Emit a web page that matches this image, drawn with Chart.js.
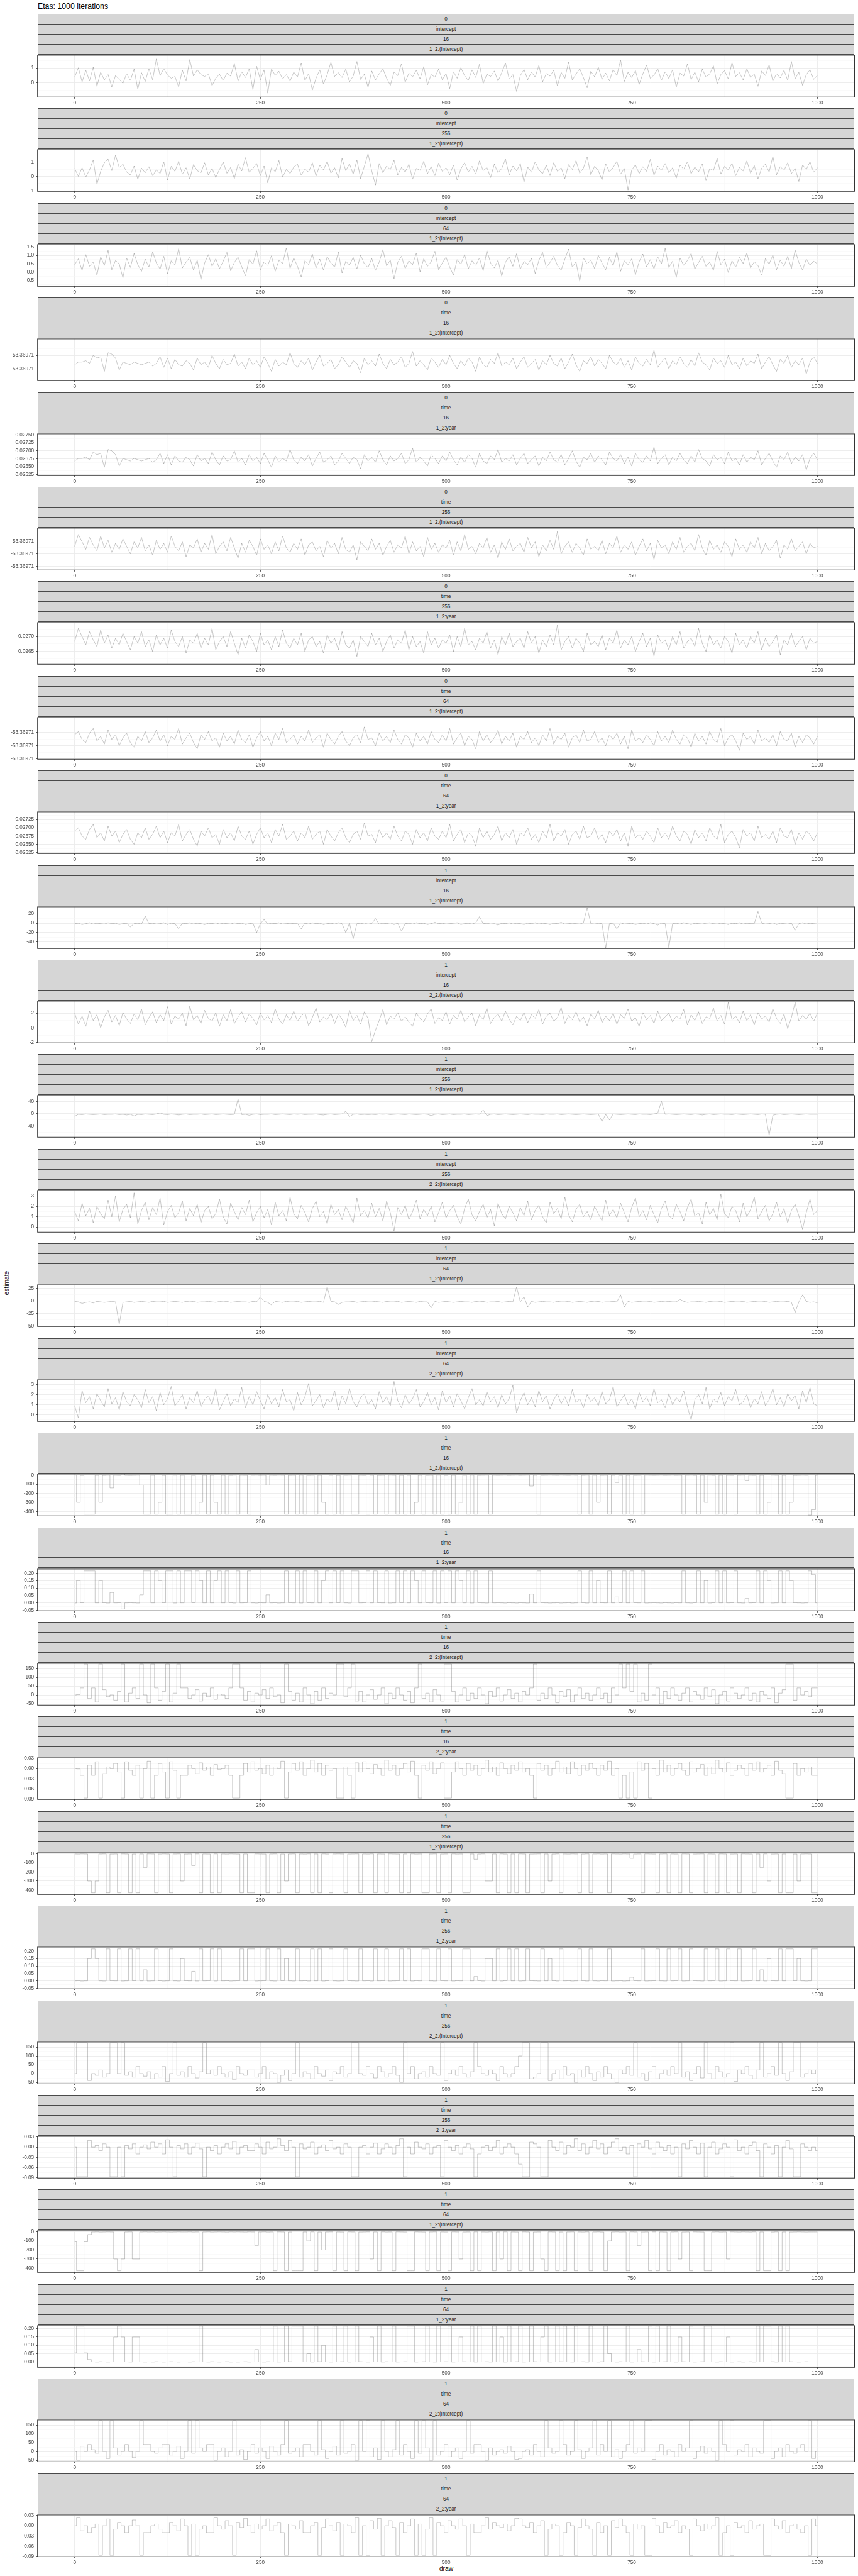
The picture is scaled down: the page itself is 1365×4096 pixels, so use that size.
<!DOCTYPE html>
<html><head><meta charset="utf-8">
<script src="https://cdn.jsdelivr.net/npm/chart.js@4.4.1/dist/chart.umd.min.js"></script>
<style>
html,body{margin:0;padding:0;background:#fff;}
body{width:1365px;height:4096px;position:relative;overflow:hidden;font-family:"Liberation Sans",Arial,Helvetica,sans-serif;}
.title{position:absolute;left:60px;top:3px;font-size:12.3px;line-height:14px;color:#000;white-space:nowrap;}
.strip{position:absolute;box-sizing:border-box;border:1px solid #4a4a4a;background:#D6D6D6;color:#1A1A1A;font-size:8.2px;display:flex;align-items:center;justify-content:center;white-space:nowrap;}
.cv{position:absolute;left:0;}
.axt{position:absolute;font-size:10.2px;color:#000;white-space:nowrap;transform:translate(-50%,-50%);}
</style></head><body>
<div class="title">Etas: 1000 iterations</div>
<div class="axt" style="left:9.5px;top:2040px;transform:translate(-50%,-50%) rotate(-90deg);">estimate</div>
<div class="axt" style="left:710px;top:4084px;">draw</div>
<script>
// ---------- DATA ----------
const iters = [
0,5,10,15,20,25,30,35,40,45,50,55,60,65,70,75,80,85,90,95,
100,105,110,115,120,125,130,135,140,145,150,155,160,165,170,175,180,185,190,195,
200,205,210,215,220,225,230,235,240,245,250,255,260,265,270,275,280,285,290,295,
300,305,310,315,320,325,330,335,340,345,350,355,360,365,370,375,380,385,390,395,
400,405,410,415,420,425,430,435,440,445,450,455,460,465,470,475,480,485,490,495,
500,505,510,515,520,525,530,535,540,545,550,555,560,565,570,575,580,585,590,595,
600,605,610,615,620,625,630,635,640,645,650,655,660,665,670,675,680,685,690,695,
700,705,710,715,720,725,730,735,740,745,750,755,760,765,770,775,780,785,790,795,
800,805,810,815,820,825,830,835,840,845,850,855,860,865,870,875,880,885,890,895,
900,905,910,915,920,925,930,935,940,945,950,955,960,965,970,975,980,985,990,995,
1000];

const stripLevel1 = ['0','0','0','0','0','0','0','0','0','1','1','1','1','1','1','1','1','1','1','1','1','1','1','1','1','1','1'];
const stripLevel2 = ['intercept','intercept','intercept','time','time','time','time','time','time','intercept','intercept','intercept','intercept','intercept','intercept','time','time','time','time','time','time','time','time','time','time','time','time'];
const stripLevel3 = ['16','256','64','16','16','256','256','64','64','16','16','256','256','64','64','16','16','16','16','256','256','256','256','64','64','64','64'];
const stripLevel4 = ['1_2:(Intercept)','1_2:(Intercept)','1_2:(Intercept)','1_2:(Intercept)','1_2:year','1_2:(Intercept)','1_2:year','1_2:(Intercept)','1_2:year','1_2:(Intercept)','2_2:(Intercept)','1_2:(Intercept)','2_2:(Intercept)','1_2:(Intercept)','2_2:(Intercept)','1_2:(Intercept)','1_2:year','2_2:(Intercept)','2_2:year','1_2:(Intercept)','1_2:year','2_2:(Intercept)','2_2:year','1_2:(Intercept)','1_2:year','2_2:(Intercept)','2_2:year'];

const xTickValues = [0,250,500,750,1000];
const xTickLabels = ['0','250','500','750','1000'];

const yMin = [-0.98,-1.04,-0.85,-53.36971095,0.02622,-53.36971115,0.026073,-53.36971102,0.02622,-54,-2.05,-76,-0.49,-51,-0.64,-448,-0.052,-58,-0.091,-448,-0.052,-58,-0.091,-448,-0.032,-58,-0.091];
const yMax = [1.87,1.86,1.65,-53.36970938,0.02753,-53.36970947,0.027463,-53.36970942,0.02748,35,3.65,59,3.53,32,3.46,12,0.227,179,0.032,12,0.227,179,0.032,12,0.218,179,0.032];

const yTickValues = [
[0,1],[-1,0,1],[-0.5,0,0.5,1,1.5],
[-53.3697105,-53.36971],[0.02625,0.0265,0.02675,0.027,0.02725,0.0275],
[-53.369711,-53.3697105,-53.36971],[0.0265,0.027],
[-53.369711,-53.3697105,-53.36971],[0.02625,0.0265,0.02675,0.027,0.02725],
[-40,-20,0,20],[-2,0,2],[-40,0,40],[0,1,2,3],[-50,-25,0,25],[0,1,2,3],
[-400,-300,-200,-100,0],[-0.05,0,0.05,0.1,0.15,0.2],[-50,0,50,100,150],[-0.09,-0.06,-0.03,0,0.03],
[-400,-300,-200,-100,0],[-0.05,0,0.05,0.1,0.15,0.2],[-50,0,50,100,150],[-0.09,-0.06,-0.03,0,0.03],
[-400,-300,-200,-100,0],[0,0.05,0.1,0.15,0.2],[-50,0,50,100,150],[-0.09,-0.06,-0.03,0,0.03]];
const yTickLabels = [
['0','1'],['-1','0','1'],['-0.5','0.0','0.5','1.0','1.5'],
['-53.36971','-53.36971'],['0.02625','0.02650','0.02675','0.02700','0.02725','0.02750'],
['-53.36971','-53.36971','-53.36971'],['0.0265','0.0270'],
['-53.36971','-53.36971','-53.36971'],['0.02625','0.02650','0.02675','0.02700','0.02725'],
['-40','-20','0','20'],['-2','0','2'],['-40','0','40'],['0','1','2','3'],['-50','-25','0','25'],['0','1','2','3'],
['-400','-300','-200','-100','0'],['-0.05','0.00','0.05','0.10','0.15','0.20'],['-50','0','50','100','150'],['-0.09','-0.06','-0.03','0.00','0.03'],
['-400','-300','-200','-100','0'],['-0.05','0.00','0.05','0.10','0.15','0.20'],['-50','0','50','100','150'],['-0.09','-0.06','-0.03','0.00','0.03'],
['-400','-300','-200','-100','0'],['0.00','0.05','0.10','0.15','0.20'],['-50','0','50','100','150'],['-0.09','-0.06','-0.03','0.00','0.03']];

const p01 = [
0.38,1.02,0.05,0.85,0.12,1.05,-0.25,0.72,0.18,0.55,-0.28,0.48,0.22,-0.05,0.62,0.15,0.92,-0.45,0.68,0.08,
0.95,0.20,1.62,0.48,0.95,0.52,0.30,0.42,-0.28,0.85,0.12,1.58,0.45,0.88,0.55,0.42,0.60,-0.20,0.30,0.58,
0.15,0.65,0.45,1.32,0.10,0.75,0.35,0.95,-0.48,1.12,0.20,0.88,-0.72,0.95,0.50,0.78,0.25,0.55,0.10,0.72,
0.38,1.35,0.15,0.62,-0.50,0.30,0.88,-0.10,0.55,1.40,0.42,0.68,0.35,0.92,0.05,0.45,1.45,0.22,0.58,-0.32,
0.80,0.18,0.60,0.95,0.30,-0.18,0.72,0.48,1.30,0.02,0.65,0.40,0.85,0.25,1.10,-0.15,0.55,0.38,0.92,0.20,
0.62,-0.40,0.75,0.30,1.02,0.48,0.15,0.88,0.35,1.25,-0.05,0.58,0.42,0.80,0.10,0.68,1.35,0.25,0.55,-0.60,
0.48,0.90,0.20,0.72,0.38,1.18,0.05,0.62,0.45,0.85,-0.22,0.70,0.30,1.42,0.18,0.58,0.95,0.35,-0.35,0.78,
0.40,1.05,0.22,0.65,0.12,0.90,0.48,1.55,0.08,0.70,0.35,0.82,-0.12,0.60,1.20,0.30,0.52,0.95,0.15,0.75,
0.28,0.88,-0.30,0.65,0.45,1.28,0.20,0.72,0.05,0.92,0.38,0.60,1.15,-0.08,0.55,0.82,0.25,1.38,0.42,0.68,
0.18,0.95,0.35,0.58,-0.25,0.80,0.48,1.22,0.10,0.62,0.32,0.85,0.15,1.45,0.28,0.70,-0.18,0.55,0.88,0.22,
0.50];
const p02 = [
0.55,0.00,0.60,-0.05,0.45,1.15,-0.55,0.35,0.95,1.20,0.40,1.48,0.62,0.85,0.30,0.10,0.72,-0.20,0.58,0.25,
0.68,0.05,0.45,0.20,1.02,-0.25,0.70,0.35,1.05,0.15,0.60,-0.18,0.82,0.40,0.25,0.95,0.10,0.55,-0.08,0.48,
1.00,0.22,0.62,-0.15,0.85,0.38,1.30,0.28,0.55,0.90,0.05,0.72,-0.45,0.60,0.32,1.10,-0.05,0.48,0.20,0.65,
0.85,0.08,0.50,0.30,0.95,0.02,0.78,0.45,1.05,0.22,0.60,-0.10,1.25,0.40,0.88,0.15,1.15,-0.15,0.70,1.58,
0.38,-0.60,0.90,0.25,0.72,0.48,1.12,0.10,0.62,0.30,0.85,-0.20,0.55,0.42,1.05,0.18,0.68,0.05,0.92,0.35,
0.60,0.12,0.80,-0.28,0.52,0.95,0.30,0.70,0.15,1.08,0.40,0.62,-0.08,0.85,0.25,0.55,1.20,0.10,0.72,0.38,
0.90,-0.42,0.65,0.28,1.02,0.45,0.18,0.78,0.05,0.95,0.35,0.60,-0.15,0.82,0.48,1.10,0.22,0.58,1.35,0.12,
0.70,0.40,-0.25,0.88,0.30,0.62,1.05,0.15,0.55,-0.95,0.45,0.80,0.20,0.68,0.35,1.18,0.08,0.72,0.42,0.90,
0.25,0.60,-0.12,0.78,0.50,1.02,0.18,0.65,0.32,0.88,-0.30,0.55,0.40,1.25,0.15,0.70,0.45,0.92,0.05,0.62,
0.38,1.08,0.22,0.75,-0.18,0.58,0.85,0.30,1.40,0.12,0.68,0.42,0.95,0.20,0.55,-0.35,0.80,0.48,1.02,0.28,
0.60];
const p03 = [
0.45,0.80,0.10,1.05,0.35,0.62,-0.20,0.92,0.40,1.30,0.15,0.70,0.50,-0.35,0.85,0.28,1.12,0.45,0.05,0.78,
0.30,1.22,0.55,0.18,0.95,-0.10,0.68,0.42,1.40,0.25,0.60,0.88,0.12,0.72,-0.45,0.55,1.05,0.35,0.80,0.20,
0.65,1.18,0.08,0.58,0.90,0.32,-0.22,0.75,0.48,1.28,0.15,0.62,0.40,0.98,0.05,0.70,0.52,1.45,0.22,0.85,
0.35,-0.30,0.68,0.45,1.08,0.25,0.78,0.12,0.92,0.55,0.30,1.20,-0.05,0.65,0.42,0.88,0.18,1.02,0.50,0.28,
0.82,0.10,0.60,1.35,0.38,0.72,-0.40,0.58,0.95,0.22,0.68,0.45,1.15,0.02,0.80,0.35,0.62,1.25,0.15,0.55,
0.90,0.30,-0.18,0.75,0.48,1.05,0.20,0.68,0.40,0.85,0.08,1.30,0.55,0.25,0.72,-0.25,0.60,0.92,0.35,1.10,
0.18,0.65,0.45,0.82,-0.08,0.70,1.18,0.28,0.58,0.95,0.40,0.12,0.78,1.38,0.30,0.62,-0.55,0.85,0.48,0.72,
0.22,1.00,0.55,0.15,0.88,0.38,1.22,0.05,0.68,0.45,0.80,-0.15,0.62,1.08,0.32,0.75,0.20,0.92,0.50,1.42,
0.28,0.65,-0.32,0.85,0.40,0.70,1.12,0.18,0.58,0.95,0.35,0.60,0.10,1.25,0.45,0.78,-0.02,0.68,0.30,0.88,
0.52,1.15,0.25,0.62,0.40,-0.20,0.82,0.48,1.02,0.15,0.72,0.35,0.95,0.22,1.32,0.58,0.12,0.78,0.42,0.65,
0.50];
const p04 = [
-53.36971035,-53.36971025,-53.36971025,-53.3697102,-53.3697103,-53.36971,-53.3697101,-53.36971005,-53.3697106,-53.3697099,-53.36970995,-53.3697101,-53.36971055,-53.36971025,-53.3697103,-53.36971035,-53.36971025,-53.3697103,-53.36971035,-53.3697103,
-53.36971025,-53.3697104,-53.3697103,-53.36971005,-53.36971045,-53.3697101,-53.3697105,-53.36971015,-53.36971035,-53.3697104,-53.3697102,-53.3697103,-53.36971055,-53.3697101,-53.36971035,-53.36971025,-53.36971045,-53.36971,-53.3697103,-53.3697105,
-53.36971015,-53.36971035,-53.3697103,-53.36970995,-53.3697104,-53.36971025,-53.3697105,-53.3697101,-53.36971035,-53.3697102,-53.36971045,-53.36971005,-53.3697103,-53.3697106,-53.36971015,-53.3697104,-53.36971025,-53.36971035,-53.3697099,-53.3697103,
-53.36971045,-53.3697102,-53.36971035,-53.3697101,-53.36971055,-53.36971025,-53.36971,-53.3697104,-53.3697103,-53.36971015,-53.3697105,-53.36971035,-53.36971005,-53.36971025,-53.36971045,-53.3697102,-53.3697103,-53.36971065,-53.3697101,-53.36971035,
-53.3697102,-53.3697104,-53.36970995,-53.3697103,-53.3697105,-53.36971015,-53.36971035,-53.36971025,-53.36971005,-53.36971045,-53.3697103,-53.36970985,-53.3697104,-53.3697102,-53.36971035,-53.36971055,-53.3697101,-53.36971025,-53.36971045,-53.36971015,
-53.36971035,-53.36971,-53.3697103,-53.3697105,-53.3697102,-53.3697104,-53.3697101,-53.36971025,-53.3697106,-53.36971005,-53.36971035,-53.36971045,-53.36971015,-53.3697103,-53.3697099,-53.3697104,-53.36971025,-53.36971035,-53.3697101,-53.3697105,
-53.36971025,-53.36971005,-53.36971045,-53.3697103,-53.36971015,-53.36971055,-53.3697102,-53.36971035,-53.36971,-53.3697103,-53.3697104,-53.3697101,-53.3697105,-53.36971025,-53.36970995,-53.36971035,-53.3697106,-53.3697102,-53.3697103,-53.36971005,
-53.3697104,-53.36971015,-53.3697103,-53.3697105,-53.36971,-53.36971025,-53.36971035,-53.3697101,-53.36971045,-53.3697102,-53.36971055,-53.36971005,-53.3697103,-53.3697104,-53.36971015,-53.36971035,-53.3697098,-53.36971045,-53.36971025,-53.3697101,
-53.3697105,-53.3697102,-53.36971035,-53.36971005,-53.3697103,-53.36971045,-53.36971015,-53.3697104,-53.3697099,-53.36971025,-53.36971035,-53.36971055,-53.3697101,-53.3697103,-53.3697102,-53.36971045,-53.36971,-53.36971035,-53.36971025,-53.3697105,
-53.3697101,-53.3697104,-53.3697102,-53.3697103,-53.36970995,-53.3697105,-53.36971025,-53.36971005,-53.36971035,-53.3697106,-53.36971015,-53.3697103,-53.36971,-53.36971045,-53.3697102,-53.36971035,-53.3697101,-53.3697107,-53.36971025,-53.36971005,
-53.3697103];
const p05 = [
0.02668,0.02676,0.02676,0.0268,0.02672,0.02696,0.02688,0.02692,0.02648,0.02704,0.027,0.02688,0.02652,0.02676,0.02672,0.02668,0.02676,0.02672,0.02668,0.02672,
0.02676,0.02664,0.02672,0.02692,0.0266,0.02688,0.02656,0.02684,0.02668,0.02664,0.0268,0.02672,0.02652,0.02688,0.02668,0.02676,0.0266,0.02696,0.02672,0.02656,
0.02684,0.02668,0.02672,0.027,0.02664,0.02676,0.02656,0.02688,0.02668,0.0268,0.0266,0.02692,0.02672,0.02648,0.02684,0.02664,0.02676,0.02668,0.02704,0.02672,
0.0266,0.0268,0.02668,0.02688,0.02652,0.02676,0.02696,0.02664,0.02672,0.02684,0.02656,0.02668,0.02692,0.02676,0.0266,0.0268,0.02672,0.02644,0.02688,0.02668,
0.0268,0.02664,0.027,0.02672,0.02656,0.02684,0.02668,0.02676,0.02692,0.0266,0.02672,0.02708,0.02664,0.0268,0.02668,0.02652,0.02688,0.02676,0.0266,0.02684,
0.02668,0.02696,0.02672,0.02656,0.0268,0.02664,0.02688,0.02676,0.02648,0.02692,0.02668,0.0266,0.02684,0.02672,0.02704,0.02664,0.02676,0.02668,0.02688,0.02656,
0.02676,0.02692,0.0266,0.02672,0.02684,0.02652,0.0268,0.02668,0.02696,0.02672,0.02664,0.02688,0.02656,0.02676,0.027,0.02668,0.02648,0.0268,0.02672,0.02692,
0.02664,0.02684,0.02672,0.02656,0.02696,0.02676,0.02668,0.02688,0.0266,0.0268,0.02652,0.02692,0.02672,0.02664,0.02684,0.02668,0.02712,0.0266,0.02676,0.02688,
0.02656,0.0268,0.02668,0.02692,0.02672,0.0266,0.02684,0.02664,0.02704,0.02676,0.02668,0.02652,0.02688,0.02672,0.0268,0.0266,0.02696,0.02668,0.02676,0.02656,
0.02688,0.02664,0.0268,0.02672,0.027,0.02656,0.02676,0.02692,0.02668,0.02648,0.02684,0.02672,0.02696,0.0266,0.0268,0.02668,0.02688,0.0264,0.02676,0.02692,
0.02672];
const p06 = [
-53.3697102,-53.36970972,-53.36971002,-53.36971032,-53.36970984,-53.36971014,-53.36971038,-53.36970978,-53.36971026,-53.36970996,-53.36971044,-53.36971008,-53.36971032,-53.3697099,-53.3697102,-53.3697105,-53.36971002,-53.36971026,-53.36970984,-53.36971038,
-53.36971014,-53.36971056,-53.36970996,-53.36971032,-53.36971008,-53.36971044,-53.36970978,-53.3697102,-53.36971038,-53.36971002,-53.36971062,-53.36971014,-53.36971026,-53.3697099,-53.36971044,-53.36971008,-53.36971032,-53.36970972,-53.3697105,-53.3697102,
-53.36971002,-53.36971038,-53.36970984,-53.36971026,-53.36971068,-53.36971008,-53.36971044,-53.36970996,-53.3697102,-53.36971056,-53.3697099,-53.36971032,-53.36971014,-53.3697105,-53.36971002,-53.36971038,-53.36970978,-53.36971026,-53.36971044,-53.36971008,
-53.36971032,-53.3697099,-53.36971056,-53.36971014,-53.36971002,-53.36971038,-53.3697102,-53.36971062,-53.36970996,-53.36971026,-53.36971008,-53.3697105,-53.36970984,-53.36971032,-53.36971044,-53.36971014,-53.36971074,-53.36971002,-53.3697102,-53.36971038,
-53.3697099,-53.36971032,-53.36971008,-53.36971056,-53.3697102,-53.36970996,-53.36971044,-53.36971014,-53.36971026,-53.36970978,-53.3697105,-53.36971002,-53.36971038,-53.3697102,-53.36971062,-53.36970984,-53.36971032,-53.36971008,-53.36971044,-53.36971014,
-53.36971026,-53.36970996,-53.36971056,-53.36971002,-53.36971038,-53.36970972,-53.36971032,-53.3697102,-53.3697105,-53.36971008,-53.36971026,-53.36970984,-53.36971044,-53.36971014,-53.36971068,-53.36971002,-53.36971032,-53.3697099,-53.36971038,-53.3697102,
-53.36971008,-53.36971044,-53.36970984,-53.36971026,-53.36971002,-53.36971062,-53.36971014,-53.36971038,-53.36970996,-53.36971032,-53.3697096,-53.3697105,-53.3697102,-53.36971002,-53.36971044,-53.36971008,-53.36971026,-53.36971056,-53.3697099,-53.36971032,
-53.3697102,-53.36971038,-53.36970996,-53.3697105,-53.36971008,-53.36971026,-53.36970978,-53.36971044,-53.36971014,-53.36971032,-53.36971002,-53.36971056,-53.3697102,-53.3697099,-53.36971038,-53.36971008,-53.36971074,-53.36970996,-53.36971026,-53.36971014,
-53.3697105,-53.36971002,-53.36971032,-53.36970984,-53.36971044,-53.3697102,-53.36971008,-53.36971038,-53.36970972,-53.36971026,-53.36971056,-53.36970996,-53.36971032,-53.36971014,-53.36971044,-53.36971002,-53.3697102,-53.36971062,-53.3697099,-53.36971032,
-53.36971014,-53.36971044,-53.36971002,-53.36971026,-53.36970984,-53.3697105,-53.36971008,-53.36971038,-53.3697102,-53.36970996,-53.36971068,-53.36971014,-53.36971032,-53.3697099,-53.36971038,-53.3697102,-53.36971002,-53.3697105,-53.36971008,-53.36971026,
-53.3697102];
const p07 = [
0.02683,0.02727,0.026995,0.02672,0.02716,0.026885,0.026665,0.027215,0.026775,0.02705,0.02661,0.02694,0.02672,0.027105,0.02683,0.026555,0.026995,0.026775,0.02716,0.026665,
0.026885,0.0265,0.02705,0.02672,0.02694,0.02661,0.027215,0.02683,0.026665,0.026995,0.026445,0.026885,0.026775,0.027105,0.02661,0.02694,0.02672,0.02727,0.026555,0.02683,
0.026995,0.026665,0.02716,0.026775,0.02639,0.02694,0.02661,0.02705,0.02683,0.0265,0.027105,0.02672,0.026885,0.026555,0.026995,0.026665,0.027215,0.026775,0.02661,0.02694,
0.02672,0.027105,0.0265,0.026885,0.026995,0.026665,0.02683,0.026445,0.02705,0.026775,0.02694,0.026555,0.02716,0.02672,0.02661,0.026885,0.026335,0.026995,0.02683,0.026665,
0.027105,0.02672,0.02694,0.0265,0.02683,0.02705,0.02661,0.026885,0.026775,0.027215,0.026555,0.026995,0.026665,0.02683,0.026445,0.02716,0.02672,0.02694,0.02661,0.026885,
0.026775,0.02705,0.0265,0.026995,0.026665,0.02727,0.02672,0.02683,0.026555,0.02694,0.026775,0.02716,0.02661,0.026885,0.02639,0.026995,0.02672,0.027105,0.026665,0.02683,
0.02694,0.02661,0.02716,0.026775,0.026995,0.026445,0.026885,0.026665,0.02705,0.02672,0.02738,0.026555,0.02683,0.026995,0.02661,0.02694,0.026775,0.0265,0.027105,0.02672,
0.02683,0.026665,0.02705,0.026555,0.02694,0.026775,0.027215,0.02661,0.026885,0.02672,0.026995,0.0265,0.02683,0.027105,0.026665,0.02694,0.026335,0.02705,0.026775,0.026885,
0.026555,0.026995,0.02672,0.02716,0.02661,0.02683,0.02694,0.026665,0.02727,0.026775,0.0265,0.02705,0.02672,0.026885,0.02661,0.026995,0.02683,0.026445,0.027105,0.02672,
0.026885,0.02661,0.026995,0.026775,0.02716,0.026555,0.02694,0.026665,0.02683,0.02705,0.02639,0.026885,0.02672,0.027105,0.026665,0.02683,0.026995,0.026555,0.02694,0.026775,
0.02683];
const p08 = [
-53.36971008,-53.36970996,-53.36971026,-53.36971038,-53.36971002,-53.36970984,-53.36971032,-53.36971014,-53.36971044,-53.3697099,-53.36971026,-53.36971008,-53.3697105,-53.3697102,-53.36971002,-53.36971038,-53.36971056,-53.36971014,-53.36971032,-53.36970996,
-53.36971038,-53.3697102,-53.3697099,-53.36971032,-53.36971008,-53.3697105,-53.36971014,-53.36971026,-53.36970984,-53.36971044,-53.3697102,-53.36971002,-53.36971038,-53.36971062,-53.36971008,-53.36971026,-53.36970996,-53.36971032,-53.3697102,-53.36971056,
-53.36971002,-53.36971032,-53.36971014,-53.36971044,-53.3697099,-53.36971026,-53.36971038,-53.36971008,-53.36971056,-53.3697102,-53.36970996,-53.36971032,-53.36971014,-53.3697105,-53.36971002,-53.36971026,-53.36970984,-53.36971038,-53.36971026,-53.36971008,
-53.36971044,-53.36971014,-53.36971032,-53.3697099,-53.36971038,-53.3697102,-53.36971008,-53.36971056,-53.36971002,-53.36971026,-53.36971044,-53.36971014,-53.36970996,-53.36971032,-53.3697105,-53.3697102,-53.36971008,-53.36971038,-53.36970978,-53.36971026,
-53.3697102,-53.3697105,-53.36971002,-53.36971032,-53.36971014,-53.36971038,-53.3697099,-53.36971026,-53.36971044,-53.36971008,-53.3697102,-53.36971056,-53.36971002,-53.36971032,-53.36971014,-53.36971044,-53.36970996,-53.36971026,-53.36971038,-53.36971008,
-53.36971032,-53.36970984,-53.36971044,-53.3697102,-53.36971002,-53.3697105,-53.36971014,-53.36971026,-53.36971062,-53.36970996,-53.36971032,-53.36971008,-53.36971038,-53.3697102,-53.3697099,-53.36971044,-53.36971014,-53.36971032,-53.36971002,-53.36971056,
-53.36971014,-53.36971026,-53.36970996,-53.36971038,-53.3697102,-53.3697105,-53.36971008,-53.36971032,-53.36970984,-53.36971044,-53.36971014,-53.36971026,-53.36971002,-53.36971056,-53.3697102,-53.36971008,-53.36971038,-53.3697099,-53.36971032,-53.36971026,
-53.36970996,-53.36971038,-53.3697102,-53.3697105,-53.36971008,-53.36971026,-53.36971002,-53.36971044,-53.36971014,-53.36971062,-53.3697099,-53.36971032,-53.3697102,-53.36971038,-53.36971008,-53.36971026,-53.3697105,-53.36970996,-53.36971032,-53.36971014,
-53.36971038,-53.3697099,-53.36971026,-53.36971044,-53.36971008,-53.3697102,-53.36971056,-53.36971002,-53.36971032,-53.36971014,-53.36971044,-53.36970996,-53.36971026,-53.36971038,-53.36970984,-53.3697105,-53.3697102,-53.36971008,-53.36971032,-53.36971068,
-53.36971002,-53.36971026,-53.36971014,-53.36971044,-53.3697099,-53.36971032,-53.3697102,-53.36971038,-53.36971008,-53.3697105,-53.36970996,-53.36971026,-53.36971032,-53.36971002,-53.36971056,-53.36971014,-53.36971038,-53.36971008,-53.3697102,-53.36971044,
-53.36971014];
const p09 = [
0.0269,0.027,0.02675,0.02665,0.02695,0.0271,0.0267,0.02685,0.0266,0.02705,0.02675,0.0269,0.02655,0.0268,0.02695,0.02665,0.0265,0.02685,0.0267,0.027,
0.02665,0.0268,0.02705,0.0267,0.0269,0.02655,0.02685,0.02675,0.0271,0.0266,0.0268,0.02695,0.02665,0.02645,0.0269,0.02675,0.027,0.0267,0.0268,0.0265,
0.02695,0.0267,0.02685,0.0266,0.02705,0.02675,0.02665,0.0269,0.0265,0.0268,0.027,0.0267,0.02685,0.02655,0.02695,0.02675,0.0271,0.02665,0.02675,0.0269,
0.0266,0.02685,0.0267,0.02705,0.02665,0.0268,0.0269,0.0265,0.02695,0.02675,0.0266,0.02685,0.027,0.0267,0.02655,0.0268,0.0269,0.02665,0.02715,0.02675,
0.0268,0.02655,0.02695,0.0267,0.02685,0.02665,0.02705,0.02675,0.0266,0.0269,0.0268,0.0265,0.02695,0.0267,0.02685,0.0266,0.027,0.02675,0.02665,0.0269,
0.0267,0.0271,0.0266,0.0268,0.02695,0.02655,0.02685,0.02675,0.02645,0.027,0.0267,0.0269,0.02665,0.0268,0.02705,0.0266,0.02685,0.0267,0.02695,0.0265,
0.02685,0.02675,0.027,0.02665,0.0268,0.02655,0.0269,0.0267,0.0271,0.0266,0.02685,0.02675,0.02695,0.0265,0.0268,0.0269,0.02665,0.02705,0.0267,0.02675,
0.027,0.02665,0.0268,0.02655,0.0269,0.02675,0.02695,0.0266,0.02685,0.02645,0.02705,0.0267,0.0268,0.02665,0.0269,0.02675,0.02655,0.027,0.0267,0.02685,
0.02665,0.02705,0.02675,0.0266,0.0269,0.0268,0.0265,0.02695,0.0267,0.02685,0.0266,0.027,0.02675,0.02665,0.0271,0.02655,0.0268,0.0269,0.0267,0.0264,
0.02695,0.02675,0.02685,0.0266,0.02705,0.0267,0.0268,0.02665,0.0269,0.02655,0.027,0.02675,0.0267,0.02695,0.0265,0.02685,0.02665,0.0269,0.0268,0.0266,
0.02685];
const p10 = [
-1,0,-3,-1,1,-2,0,-1,-2,1,-1,0,-3,-1,0,-8,-1,0,-2,15,
-1,0,-2,-1,1,-3,0,-1,-12,0,-1,1,-2,0,-1,-3,0,-1,1,-2,
0,-1,-2,1,-1,0,-3,-1,0,-20,-1,8,-2,0,-1,1,-2,-1,0,-1,
-1,-12,0,-2,1,-1,0,-3,-1,0,-2,1,-1,-20,0,-33,-1,0,-2,1,
-1,10,-2,0,-1,1,-3,0,-17,-1,0,-2,1,-1,0,-3,-1,2,-1,0,
-2,-1,0,1,-3,-1,0,-2,1,14,-1,0,-2,-1,-4,0,-1,1,-2,0,
-1,-3,0,-1,1,-2,0,-1,-3,0,-1,2,-2,-1,0,-1,-2,1,33,-1,
-2,0,-1,-53,-1,0,-12,1,-2,-1,0,-3,-1,0,-2,1,-1,-4,0,-1,
-52,-1,0,-2,1,-1,-3,0,-1,-2,0,1,-1,-2,0,-1,-3,0,-1,1,
-2,0,-1,-1,25,0,-2,-1,1,-3,0,-1,-2,0,-15,-1,1,-2,0,-1,
-2];
const p11 = [
2.0,0.5,1.6,0.2,2.3,1.0,1.8,0.0,1.5,2.4,0.8,1.7,0.3,2.1,1.2,0.6,1.9,1.1,2.6,0.4,
1.4,2.2,0.7,1.8,1.0,2.9,0.5,1.6,1.2,2.0,0.3,3.0,1.1,1.7,0.6,2.4,1.3,0.9,2.1,0.2,
1.8,1.0,2.5,0.6,1.5,2.2,0.8,1.9,1.3,0.4,2.0,1.1,1.7,0.7,2.6,1.2,0.5,1.8,1.0,2.3,
0.9,1.6,2.1,0.3,1.4,2.7,0.8,1.5,1.1,2.0,0.6,1.9,1.2,0.1,2.4,1.0,1.7,0.5,2.2,1.3,
-1.9,-0.3,1.0,2.5,0.4,1.6,1.2,2.1,0.9,1.5,0.8,0.2,2.0,1.3,0.8,1.9,2.6,0.6,1.4,1.0,
2.2,0.5,1.7,1.2,2.4,0.8,1.5,2.0,0.3,1.8,1.1,2.7,0.6,1.4,1.9,0.9,2.3,1.2,0.4,1.6,
1.0,2.1,0.7,1.8,1.3,2.5,0.5,1.6,2.0,0.9,1.4,2.8,0.6,1.7,1.1,2.2,0.8,1.5,0.3,1.9,
1.2,2.4,0.7,1.6,1.0,2.0,0.5,1.8,1.3,2.6,0.9,1.4,0.2,2.1,1.1,1.7,0.6,2.3,1.0,1.5,
2.0,0.8,1.6,1.2,2.5,0.4,1.8,1.0,2.2,0.6,1.5,1.3,2.7,0.9,1.7,0.5,3.5,1.1,1.6,0.7,
2.3,1.0,1.8,0.4,2.1,1.2,1.6,0.8,2.6,1.3,0.6,1.9,-0.1,1.4,3.5,0.9,1.7,1.2,2.0,0.9,
2.0];
const p12 = [
-8,-2,-3,-1,-2,-3,-2,-1,-3,-2,-2,-1,-3,-2,-4,-2,-7,-2,-3,-1,
-2,-3,-1,3,-2,-3,-1,-2,-4,-2,-1,-3,-2,-2,-1,-3,-2,-1,-3,-2,
-1,-2,-3,-2,48,-3,-2,-5,-2,-1,-3,-2,-2,-1,-3,-2,-1,-2,-3,-1,
-2,-1,-3,-2,-2,-1,-3,-4,-2,-1,-3,-2,-1,8,-9,-2,-1,-3,-2,-3,
-2,-3,-1,-2,-1,-3,-2,-1,-2,-3,-1,-2,-3,-2,-1,-2,-6,-2,-1,-3,
-2,-1,-3,-2,-2,-1,-3,-2,-1,-2,12,-6,-2,-1,-3,-2,-1,-2,-3,-2,
-1,-2,-3,-1,-2,-2,-3,-1,-2,-2,-1,-3,-2,-1,-2,-3,-2,-1,-2,-3,
-2,-1,-25,-2,-20,-1,-2,-3,-2,-1,-2,-3,-1,-2,-2,-3,-1,2,40,-2,
-1,-2,-3,-2,-1,-2,-3,-1,-2,-4,-2,-1,-3,-2,-1,-2,-2,-3,-1,-2,
-3,-2,-1,-2,-3,-1,-2,-70,-5,-2,-1,-3,-2,-1,-2,-3,-2,-1,-2,-2,
-2];
const p13 = [
1.5,0.6,2.3,1.1,1.8,0.4,2.0,1.3,0.8,2.6,1.0,3.0,0.5,1.7,2.2,0.9,3.3,0.3,1.6,2.4,
0.7,1.9,1.2,2.8,0.2,1.5,2.1,0.9,1.4,2.5,0.6,1.8,1.1,2.2,0.4,1.6,2.0,0.8,1.3,2.7,
1.0,0.3,2.3,1.5,0.7,1.9,1.2,2.6,0.5,1.4,2.0,0.9,1.7,0.2,2.4,1.1,1.6,0.6,2.9,1.3,
0.8,2.1,1.4,0.5,1.8,2.5,1.0,1.5,0.3,2.2,1.2,1.7,0.7,2.0,1.3,0.4,2.8,1.1,1.6,0.9,
2.3,1.0,1.8,0.6,2.5,1.4,-0.4,1.9,1.2,2.1,0.7,1.5,2.6,0.8,1.7,1.1,2.0,0.5,1.4,2.4,
0.9,1.6,2.1,1.0,0.3,1.8,2.7,1.2,0.6,1.5,2.2,0.9,1.7,0.1,2.3,1.3,0.8,2.0,1.4,0.6,
1.9,1.1,2.5,0.7,1.6,2.1,1.0,0.4,2.4,1.3,1.8,0.8,2.9,1.2,0.5,1.7,2.2,1.0,1.5,0.7,
2.0,1.3,0.6,2.6,1.1,1.7,0.9,2.3,1.4,0.5,1.9,2.8,1.0,1.6,0.7,2.1,1.2,0.4,1.8,2.5,
1.1,0.8,2.2,1.5,0.6,1.9,2.7,1.0,1.4,0.3,2.4,1.2,1.8,0.7,3.2,1.3,0.9,2.0,1.6,0.5,
2.3,1.0,1.7,2.9,0.8,1.5,2.1,0.6,1.3,2.4,1.0,1.8,0.4,1.6,2.2,1.1,-0.2,1.4,2.7,1.2,
1.6];
const p14 = [
-1,-2,-5,-3,-2,-4,-1,-2,-3,-2,-1,-2,-47,-3,-2,-1,-3,-2,-1,-2,
-3,-1,-2,-2,-1,-3,-2,-1,-2,-3,-1,-2,-1,-3,-2,-2,-1,-2,-3,-1,
-2,-1,-3,-2,-1,-2,-2,-3,-1,-2,8,-1,-3,-8,-1,-2,-3,-1,-2,-2,
-1,-3,-2,-1,-2,-2,-1,-3,28,-1,-2,-7,-3,-2,-2,-1,-3,-2,-1,-2,
-2,-1,-2,-3,-1,-2,-2,-1,-3,-2,-1,-2,-3,-1,-2,-2,-14,-1,-3,-2,
-1,-2,-3,-2,-1,-2,-2,-3,-1,-2,-1,-3,-2,-2,-1,-3,-2,-1,-2,28,
-2,8,-12,-1,-3,-2,-1,-2,-2,-3,-1,-2,-2,-1,-3,-2,-1,-2,-3,-1,
-2,-1,-3,-2,-2,-1,-2,12,-12,-1,-3,-2,-1,-2,-2,-1,-3,-2,-1,-2,
-1,-2,-2,3,-1,-3,-2,-2,-1,-2,-3,-1,-2,-2,-1,-3,-2,-1,-2,-2,
-1,-3,-2,-1,-2,-2,-1,-3,-2,-1,-2,-2,-1,-3,-23,-2,12,-1,-3,-2,
-4];
const p15 = [
0.9,-0.3,2.4,1.2,1.8,0.6,2.1,1.4,0.8,2.6,1.1,1.7,0.5,2.3,1.3,0.9,2.0,1.5,0.7,2.5,
1.2,1.8,0.4,2.2,1.0,1.6,2.8,0.9,1.4,2.0,0.6,1.7,1.2,2.4,0.8,1.5,1.9,1.0,2.6,0.5,
1.3,2.1,0.9,1.6,1.2,2.7,0.7,1.8,1.0,2.3,1.4,0.6,2.0,1.1,1.7,0.8,2.5,1.3,1.5,0.4,
2.2,1.0,1.8,3.1,0.9,1.4,2.0,0.7,1.6,1.2,2.4,0.5,1.9,1.1,2.6,1.3,0.8,1.7,2.1,1.0,
1.5,0.6,2.3,1.2,1.8,0.9,3.3,1.4,0.7,2.0,1.1,1.6,2.5,0.8,1.3,2.2,1.0,1.7,0.5,2.4,
1.2,1.9,0.8,2.1,1.4,0.6,1.7,2.6,1.0,1.5,0.9,2.3,1.3,1.8,0.7,2.0,1.1,1.6,2.9,0.2,
1.4,2.2,1.0,1.7,0.8,2.4,1.3,1.9,0.6,1.5,2.1,1.1,1.8,0.9,2.5,1.2,1.6,0.7,2.0,1.3,
1.7,0.9,2.3,1.1,1.5,2.8,0.8,1.4,2.0,1.0,1.6,0.6,2.2,1.3,1.8,0.9,2.6,1.2,1.5,0.7,
2.1,1.0,1.7,1.3,2.4,0.8,-0.5,1.5,2.0,1.1,2.7,0.6,1.6,1.2,2.2,0.9,1.8,1.4,2.5,1.0,
1.3,2.0,0.7,1.6,1.1,2.3,0.9,1.5,2.6,1.0,1.7,0.8,2.1,1.4,1.9,0.6,2.4,1.2,2.7,1.1,
0.9];
const p16 = [
0,-300,-3,-430,-430,-430,-2,-300,-3,-1,-140,-2,-3,20,-2,-3,-2,-1,-110,-430,
-430,-2,-430,-300,-3,-430,-430,-1,-430,-2,-430,-430,-3,-430,-300,-2,-430,-2,-300,-430,
-2,-430,-3,-1,-430,-2,-3,-430,-2,-1,-3,-2,-110,-2,-3,-1,-2,-430,-3,-2,
-430,-1,-430,-3,-2,-430,-2,-300,-430,-2,-430,-3,-430,-2,-1,-430,-430,-2,-3,-430,
-2,-430,-3,-2,-430,-1,-2,-430,-3,-430,-2,-430,-300,-2,-430,-3,-2,-430,-1,-430,
-3,-430,-2,-430,-300,-2,-430,-1,-430,-3,-2,-1,-430,-2,-3,-2,-1,-3,-2,-1,
-3,-2,-1,-120,-2,-430,-3,-2,-1,-2,-3,-1,-2,-3,-1,-2,-430,-3,-1,-430,
-2,-300,-3,-2,-430,-2,-80,-3,-430,-2,-430,-3,-2,-430,-1,-2,-3,-2,-1,-3,
-2,-1,-3,-2,-430,-2,-1,-3,-430,-2,-300,-1,-3,-430,-2,-430,-2,-3,-430,-2,
-1,-60,-2,-3,-430,-2,-430,-300,-1,-2,-430,-2,-430,-300,-3,-2,-1,-2,-440,-380,
-2];
const p17 = [
0,0.15,0.002,0.215,0.215,0.215,0.001,0.15,0.002,0,0.07,0.001,0.002,-0.04,0.001,0.002,0.001,0,0.055,0.215,
0.215,0.001,0.215,0.15,0.002,0.215,0.215,0,0.215,0.001,0.215,0.215,0.002,0.215,0.15,0.001,0.215,0.001,0.15,0.215,
0.001,0.215,0.002,0,0.215,0.001,0.002,0.215,0.001,0,0.002,0.001,0.055,0.001,0.002,0,0.001,0.215,0.002,0.001,
0.215,0,0.215,0.002,0.001,0.215,0.001,0.15,0.215,0.001,0.215,0.002,0.215,0.001,0,0.215,0.215,0.001,0.002,0.215,
0.001,0.215,0.002,0.001,0.215,0,0.001,0.215,0.002,0.215,0.001,0.215,0.15,0.001,0.215,0.002,0.001,0.215,0,0.215,
0.002,0.215,0.001,0.215,0.15,0.001,0.215,0,0.215,0.002,0.001,0,0.215,0.001,0.002,0.001,0,0.002,0.001,0,
0.002,0.001,0,0.06,0.001,0.215,0.002,0.001,0,0.001,0.002,0,0.001,0.002,0,0.001,0.215,0.002,0,0.215,
0.001,0.15,0.002,0.001,0.215,0.001,0.04,0.002,0.215,0.001,0.215,0.002,0.001,0.215,0,0.001,0.002,0.001,0,0.002,
0.001,0,0.002,0.001,0.215,0.001,0,0.002,0.215,0.001,0.15,0,0.002,0.215,0.001,0.215,0.001,0.002,0.215,0.001,
0,0.03,0.001,0.002,0.215,0.001,0.215,0.15,0,0.001,0.215,0.001,0.215,0.15,0.002,0.001,0,0.001,0.215,0.19,
0.001];
const p18 = [
0,2,40,175,-20,40,-40,175,30,-10,0,-30,20,175,-40,10,40,-20,175,0,
-45,175,40,-30,20,175,-40,10,175,40,40,-20,0,30,-35,10,-10,40,-25,5,
0,-20,40,175,175,40,-30,20,-40,10,0,30,-20,40,-10,0,-45,175,20,-30,
10,-40,40,0,-50,20,-30,40,-20,10,0,175,175,-10,40,175,-35,20,-40,0,
30,-25,0,40,-50,10,-20,40,0,-30,20,-45,40,175,-20,10,-40,30,0,-35,
175,175,20,-40,0,40,-30,10,-20,40,0,-50,20,-10,40,-35,0,30,-20,10,
-40,20,0,40,175,-30,10,-20,40,0,-45,20,-10,30,-40,0,40,-20,10,-30,
0,40,-20,10,-45,40,0,175,40,175,20,175,-40,10,-30,175,0,40,-50,20,
-20,40,0,-30,10,40,-40,20,0,-25,40,-10,30,-50,0,20,-35,40,10,-20,
0,40,-30,10,-40,20,0,-20,40,-45,10,30,175,175,-30,40,0,20,-10,40,
40];
const p19 = [
0,-0.001,-0.02,-0.087,0.01,-0.02,0.02,-0.087,-0.015,0.005,0,0.015,-0.01,-0.087,0.02,-0.005,-0.02,0.01,-0.087,0,
0.022,-0.087,-0.02,0.015,-0.01,-0.087,0.02,-0.005,-0.087,-0.02,-0.02,0.01,0,-0.015,0.017,-0.005,0.005,-0.02,0.012,-0.002,
0,0.01,-0.02,-0.087,-0.087,-0.02,0.015,-0.01,0.02,-0.005,0,-0.015,0.01,-0.02,0.005,0,0.022,-0.087,-0.01,0.015,
-0.005,0.02,-0.02,0,0.025,-0.01,0.015,-0.02,0.01,-0.005,0,-0.087,-0.087,0.005,-0.02,-0.087,0.017,-0.01,0.02,0,
-0.015,0.012,0,-0.02,0.025,-0.005,0.01,-0.02,0,0.015,-0.01,0.022,-0.02,-0.087,0.01,-0.005,0.02,-0.015,0,0.017,
-0.087,-0.087,-0.01,0.02,0,-0.02,0.015,-0.005,0.01,-0.02,0,0.025,-0.01,0.005,-0.02,0.017,0,-0.015,0.01,-0.005,
0.02,-0.01,0,-0.02,-0.087,0.015,-0.005,0.01,-0.02,0,0.022,-0.01,0.005,-0.015,0.02,0,-0.02,0.01,-0.005,0.015,
0,-0.02,0.01,-0.005,0.022,-0.02,0,-0.087,-0.02,-0.087,-0.01,-0.087,0.02,-0.005,0.015,-0.087,0,-0.02,0.025,-0.01,
0.01,-0.02,0,0.015,-0.005,-0.02,0.02,-0.01,0,0.012,-0.02,0.005,-0.015,0.025,0,-0.01,0.017,-0.02,-0.005,0.01,
0,-0.02,0.015,-0.005,0.02,-0.01,0,0.01,-0.02,0.022,-0.005,-0.015,-0.087,-0.087,0.015,-0.02,0,-0.01,0.005,-0.02,
-0.02];
const p20 = [
-2,-3,-1,-2,-300,-430,-300,-2,-1,-430,-3,-2,-430,-1,-2,-430,-3,-430,-2,-150,
-1,-2,-430,-3,-1,-2,-430,-2,-1,-300,-3,-2,-130,-1,-430,-2,-3,-430,-1,-430,
-2,-3,-1,-2,-3,-430,-2,-430,-430,-1,-2,-3,-430,-2,-1,-430,-3,-300,-2,-1,
-430,-2,-3,-1,-430,-2,-430,-1,-3,-430,-2,-1,-2,-430,-3,-2,-1,-430,-2,-3,
-1,-430,-2,-3,-430,-1,-2,-3,-430,-2,-430,-1,-3,-2,-430,-430,-2,-1,-430,-3,
-2,-430,-1,-3,-2,-430,-430,-2,-60,-3,-1,-300,-300,-2,-430,-1,-3,-430,-2,-430,
-1,-2,-430,-3,-2,-1,-430,-2,-300,-3,-1,-430,-2,-3,-1,-2,-430,-3,-1,-430,
-2,-1,-3,-2,-430,-1,-2,-3,-1,-2,-50,-3,-2,-430,-1,-2,-3,-430,-2,-1,
-430,-2,-3,-430,-1,-2,-430,-3,-2,-1,-430,-2,-3,-430,-1,-2,-430,-3,-2,-430,
-1,-2,-3,-430,-2,-150,-1,-300,-3,-2,-430,-2,-430,-430,-3,-300,-2,-1,-2,-430,
-430];
const p21 = [
0.001,0.002,0,0.001,0.15,0.215,0.15,0.001,0,0.215,0.002,0.001,0.215,0,0.001,0.215,0.002,0.215,0.001,0.075,
0,0.001,0.215,0.002,0,0.001,0.215,0.001,0,0.15,0.002,0.001,0.065,0,0.215,0.001,0.002,0.215,0,0.215,
0.001,0.002,0,0.001,0.002,0.215,0.001,0.215,0.215,0,0.001,0.002,0.215,0.001,0,0.215,0.002,0.15,0.001,0,
0.215,0.001,0.002,0,0.215,0.001,0.215,0,0.002,0.215,0.001,0,0.001,0.215,0.002,0.001,0,0.215,0.001,0.002,
0,0.215,0.001,0.002,0.215,0,0.001,0.002,0.215,0.001,0.215,0,0.002,0.001,0.215,0.215,0.001,0,0.215,0.002,
0.001,0.215,0,0.002,0.001,0.215,0.215,0.001,0.03,0.002,0,0.15,0.15,0.001,0.215,0,0.002,0.215,0.001,0.215,
0,0.001,0.215,0.002,0.001,0,0.215,0.001,0.15,0.002,0,0.215,0.001,0.002,0,0.001,0.215,0.002,0,0.215,
0.001,0,0.002,0.001,0.215,0,0.001,0.002,0,0.001,0.025,0.002,0.001,0.215,0,0.001,0.002,0.215,0.001,0,
0.215,0.001,0.002,0.215,0,0.001,0.215,0.002,0.001,0,0.215,0.001,0.002,0.215,0,0.001,0.215,0.002,0.001,0.215,
0,0.001,0.002,0.215,0.001,0.075,0,0.15,0.002,0.001,0.215,0.001,0.215,0.215,0.002,0.15,0.001,0,0.001,0.215,
0.215];
const p22 = [
0,175,175,175,-40,0,-10,20,-20,0,175,175,0,175,-10,10,-20,40,0,-15,
10,-30,0,-20,40,-45,0,175,-10,10,-20,40,0,-25,10,175,0,20,-10,40,
0,-20,10,-35,40,0,-10,20,20,-20,0,40,-30,10,0,-50,-10,20,-40,0,
175,-20,10,0,-30,40,0,-15,20,-40,10,0,40,-20,0,175,175,0,-10,40,
0,-25,40,10,-20,0,40,-10,-50,175,0,40,-30,0,10,-20,40,0,-10,175,
-40,0,20,-10,40,0,-20,10,175,40,0,-10,20,0,-40,40,0,-20,0,40,
100,175,175,-30,-20,0,175,175,-40,0,20,-30,40,-10,0,-50,20,-20,40,0,
-40,10,-20,40,0,-30,-50,20,0,40,-10,175,-20,0,-40,10,40,-30,0,20,
-10,40,0,175,-20,10,-40,0,40,-25,175,0,-30,40,10,-20,0,175,-45,20,
0,40,-10,-30,20,175,-20,0,40,-10,175,0,-40,10,175,175,-20,0,20,0,
20];
const p23 = [
0,-0.087,-0.087,-0.087,0.02,0,0.005,-0.01,0.01,0,-0.087,-0.087,0,-0.087,0.005,-0.005,0.01,-0.02,0,0.007,
-0.005,0.015,0,0.01,-0.02,0.022,0,-0.087,0.005,-0.005,0.01,-0.02,0,0.012,-0.005,-0.087,0,-0.01,0.005,-0.02,
0,0.01,-0.005,0.017,-0.02,0,0.005,-0.01,-0.01,0.01,0,-0.02,0.015,-0.005,0,0.025,0.005,-0.01,0.02,0,
-0.087,0.01,-0.005,0,0.015,-0.02,0,0.007,-0.01,0.02,-0.005,0,-0.02,0.01,0,-0.087,-0.087,0,0.005,-0.02,
0,0.012,-0.02,-0.005,0.01,0,-0.02,0.005,0.025,-0.087,0,-0.02,0.015,0,-0.005,0.01,-0.02,0,0.005,-0.087,
0.02,0,-0.01,0.005,-0.02,0,0.01,-0.005,-0.087,-0.02,0,0.005,-0.01,0,0.02,-0.02,0,0.01,0,-0.02,
-0.05,-0.087,-0.087,0.015,0.01,0,-0.087,-0.087,0.02,0,-0.01,0.015,-0.02,0.005,0,0.025,-0.01,0.01,-0.02,0,
0.02,-0.005,0.01,-0.02,0,0.015,0.025,-0.01,0,-0.02,0.005,-0.087,0.01,0,0.02,-0.005,-0.02,0.015,0,-0.01,
0.005,-0.02,0,-0.087,0.01,-0.005,0.02,0,-0.02,0.012,-0.087,0,0.015,-0.02,-0.005,0.01,0,-0.087,0.022,-0.01,
0,-0.02,0.005,0.015,-0.01,-0.087,0.01,0,-0.02,0.005,-0.087,0,0.02,-0.005,-0.087,-0.087,0.01,0,-0.01,0,
-0.01];
const p24 = [
-110,-430,-430,-110,-30,-2,-1,-3,-2,-1,-2,-300,-430,-300,-2,-1,-300,-300,-2,-1,
-2,-1,-3,-2,-1,-2,-3,-2,-1,-2,-2,-1,-3,-2,-430,-2,-1,-3,-2,-1,
-2,-3,-1,-2,-1,-2,-3,-1,-2,-150,-2,-1,-3,-2,-430,-1,-2,-430,-3,-430,
-430,-430,-2,-100,-1,-430,-3,-200,-2,-1,-430,-2,-3,-430,-1,-2,-430,-3,-2,-1,
-300,-2,-430,-1,-3,-2,-430,-1,-2,-3,-430,-430,-1,-2,-3,-430,-2,-1,-430,-2,
-3,-430,-1,-2,-300,-3,-2,-430,-1,-430,-2,-3,-1,-430,-2,-300,-1,-430,-2,-3,
-430,-1,-2,-430,-3,-2,-300,-430,-1,-2,-430,-3,-430,-2,-1,-430,-2,-3,-1,-430,
-2,-1,-3,-430,-100,-2,-1,-3,-2,-430,-1,-2,-150,-3,-2,-430,-1,-430,-2,-3,
-430,-2,-1,-300,-3,-2,-430,-1,-2,-3,-430,-430,-2,-1,-3,-2,-300,-1,-2,-3,
-1,-2,-3,-1,-430,-2,-430,-430,-3,-1,-430,-2,-430,-3,-2,-1,-2,-3,-2,-2,
-2];
const p25 = [
0.055,0.215,0.215,0.055,0.015,0.001,0,0.002,0.001,0,0.001,0.15,0.215,0.15,0.001,0,0.15,0.15,0.001,0,
0.001,0,0.002,0.001,0,0.001,0.002,0.001,0,0.001,0.001,0,0.002,0.001,0.215,0.001,0,0.002,0.001,0,
0.001,0.002,0,0.001,0,0.001,0.002,0,0.001,0.075,0.001,0,0.002,0.001,0.215,0,0.001,0.215,0.002,0.215,
0.215,0.215,0.001,0.05,0,0.215,0.002,0.1,0.001,0,0.215,0.001,0.002,0.215,0,0.001,0.215,0.002,0.001,0,
0.15,0.001,0.215,0,0.002,0.001,0.215,0,0.001,0.002,0.215,0.215,0,0.001,0.002,0.215,0.001,0,0.215,0.001,
0.002,0.215,0,0.001,0.15,0.002,0.001,0.215,0,0.215,0.001,0.002,0,0.215,0.001,0.15,0,0.215,0.001,0.002,
0.215,0,0.001,0.215,0.002,0.001,0.15,0.215,0,0.001,0.215,0.002,0.215,0.001,0,0.215,0.001,0.002,0,0.215,
0.001,0,0.002,0.215,0.05,0.001,0,0.002,0.001,0.215,0,0.001,0.075,0.002,0.001,0.215,0,0.215,0.001,0.002,
0.215,0.001,0,0.15,0.002,0.001,0.215,0,0.001,0.002,0.215,0.215,0.001,0,0.002,0.001,0.15,0,0.001,0.002,
0,0.001,0.002,0,0.215,0.001,0.215,0.215,0.002,0,0.215,0.001,0.215,0.002,0.001,0,0.001,0.002,0.001,0.001,
0.001];
const p26 = [
0,-50,30,0,40,10,-10,175,0,-40,175,20,-20,0,40,0,-35,0,175,40,
40,0,-10,20,40,40,-20,0,30,-40,0,175,-10,175,20,0,40,40,-50,0,
20,-30,0,175,-20,10,-45,0,40,-10,20,0,-40,30,0,-20,40,175,-10,0,
20,-30,40,40,0,-20,175,10,-40,0,30,-20,175,-10,0,40,-50,175,0,175,
-30,20,-45,175,0,-30,10,175,-20,40,0,-40,175,-10,175,20,-50,175,-20,0,
40,-30,0,20,-40,0,175,-10,40,40,0,-50,20,-20,0,10,-10,30,0,-45,
-40,0,10,-20,40,0,-30,175,20,-10,0,175,40,-20,0,175,10,-40,0,20,
175,-20,40,0,175,-30,10,-40,0,40,175,-10,20,0,175,175,-45,0,40,-20,
10,0,-30,40,0,20,175,-40,0,30,-10,20,0,-50,175,40,0,175,-20,10,
0,40,-30,20,0,-10,175,175,-40,0,20,-30,40,0,-10,20,40,0,175,-40,
0];
const p27 = [
0,0.025,-0.015,0,-0.02,-0.005,0.005,-0.087,0,0.02,-0.087,-0.01,0.01,0,-0.02,0,0.017,0,-0.087,-0.02,
-0.02,0,0.005,-0.01,-0.02,-0.02,0.01,0,-0.015,0.02,0,-0.087,0.005,-0.087,-0.01,0,-0.02,-0.02,0.025,0,
-0.01,0.015,0,-0.087,0.01,-0.005,0.022,0,-0.02,0.005,-0.01,0,0.02,-0.015,0,0.01,-0.02,-0.087,0.005,0,
-0.01,0.015,-0.02,-0.02,0,0.01,-0.087,-0.005,0.02,0,-0.015,0.01,-0.087,0.005,0,-0.02,0.025,-0.087,0,-0.087,
0.015,-0.01,0.022,-0.087,0,0.015,-0.005,-0.087,0.01,-0.02,0,0.02,-0.087,0.005,-0.087,-0.01,0.025,-0.087,0.01,0,
-0.02,0.015,0,-0.01,0.02,0,-0.087,0.005,-0.02,-0.02,0,0.025,-0.01,0.01,0,-0.005,0.005,-0.015,0,0.022,
0.02,0,-0.005,0.01,-0.02,0,0.015,-0.087,-0.01,0.005,0,-0.087,-0.02,0.01,0,-0.087,-0.005,0.02,0,-0.01,
-0.087,0.01,-0.02,0,-0.087,0.015,-0.005,0.02,0,-0.02,-0.087,0.005,-0.01,0,-0.087,-0.087,0.022,0,-0.02,0.01,
-0.005,0,0.015,-0.02,0,-0.01,-0.087,0.02,0,-0.015,0.005,-0.01,0,0.025,-0.087,-0.02,0,-0.087,0.01,-0.005,
0,-0.02,0.015,-0.01,0,0.005,-0.087,-0.087,0.02,0,-0.01,0.015,-0.02,0,0.005,-0.01,-0.02,0,-0.087,0.02,
0];

const panelSeries = [p01,p02,p03,p04,p05,p06,p07,p08,p09,p10,p11,p12,p13,p14,p15,p16,p17,p18,p19,p20,p21,p22,p23,p24,p25,p26,p27];

// ---------- LAYOUT (styling only) ----------
const SC = 0.711;
const FIRST_TOP = 31 * SC, PERIOD = 211.54 * SC;
const STRIP_H = 22.5 * SC, PLOT_H = 96 * SC;
const PLOT_LEFT = 59.7, PLOT_RIGHT = 1359.5, CANVAS_W = 1365;
const TOP_PAD = 6, XAXIS_H = 17.7;
const FONT = "'Liberation Sans', Arial, Helvetica, sans-serif";

function makeTicks(vals, lbls, min, max) {
  const out = [];
  const step = vals[1] - vals[0];
  const eps = Math.abs(step) * 1e-6;
  vals.forEach((v, i) => { if (v >= min - eps && v <= max + eps) out.push({ value: v, txt: lbls[i], isMajor: true }); });
  for (let m = vals[0] - step / 2; m <= max + eps; m += step) {
    if (m >= min - eps) out.push({ value: m, txt: '', isMajor: false });
  }
  out.sort((a, b) => a.value - b.value);
  return out;
}

const borderPlugin = {
  id: 'panelBorder',
  afterDraw(chart) {
    const a = chart.chartArea, c = chart.ctx;
    c.save();
    c.strokeStyle = '#333333';
    c.lineWidth = 1;
    c.strokeRect(a.left, a.top, a.right - a.left, a.bottom - a.top);
    c.restore();
  }
};

function gridOpts() {
  return {
    drawOnChartArea: true,
    drawTicks: true,
    tickLength: 2.6,
    tickWidth: 0.8,
    color: ctx => (ctx.tick && ctx.tick.isMajor) ? '#EBEBEB' : '#F5F5F5',
    lineWidth: ctx => (ctx.tick && ctx.tick.isMajor) ? 0.9 : 0.5,
    tickColor: ctx => (ctx.tick && ctx.tick.isMajor) ? '#333333' : 'rgba(0,0,0,0)'
  };
}

const xMinR = -50, xMaxR = 1050;

panelSeries.forEach((vals, k) => {
  const stripTop = FIRST_TOP + k * PERIOD;
  const levels = [stripLevel1[k], stripLevel2[k], stripLevel3[k], stripLevel4[k]];
  levels.forEach((txt, s) => {
    const d = document.createElement('div');
    d.className = 'strip';
    d.style.left = PLOT_LEFT + 'px';
    d.style.width = (PLOT_RIGHT - PLOT_LEFT) + 'px';
    d.style.top = (stripTop + s * STRIP_H) + 'px';
    d.style.height = (STRIP_H + 1) + 'px';
    d.textContent = txt;
    document.body.appendChild(d);
  });
  const plotTop = stripTop + 4 * STRIP_H;
  const cv = document.createElement('canvas');
  const H = Math.round(TOP_PAD + PLOT_H + XAXIS_H);
  cv.width = CANVAS_W; cv.height = H;
  cv.className = 'cv';
  cv.style.top = (plotTop - TOP_PAD) + 'px';
  cv.style.width = CANVAS_W + 'px';
  cv.style.height = H + 'px';
  document.body.appendChild(cv);

  const yT = makeTicks(yTickValues[k], yTickLabels[k], yMin[k], yMax[k]);
  const xT = makeTicks(xTickValues, xTickLabels, xMinR, xMaxR);
  const pts = iters.map((x, i) => ({ x: x, y: vals[i] }));
  const jumpy = k >= 15; // chains with jumps between discrete levels

  new Chart(cv.getContext('2d'), {
    type: 'line',
    data: { datasets: [{ data: pts, borderColor: 'rgba(95,95,95,0.5)', borderWidth: 0.7, pointRadius: 0, tension: 0, fill: false,
                         stepped: jumpy ? 'middle' : false, borderJoinStyle: 'round' }] },
    options: {
      responsive: false, maintainAspectRatio: false, animation: false, devicePixelRatio: 1, events: [],
      layout: { autoPadding: false, padding: { top: TOP_PAD, right: CANVAS_W - PLOT_RIGHT, left: 0, bottom: 0 } },
      plugins: { legend: { display: false }, tooltip: { enabled: false }, title: { display: false } },
      scales: {
        x: {
          type: 'linear', min: xMinR, max: xMaxR,
          afterBuildTicks: s => { s.ticks = xT.map(t => ({ value: t.value, txt: t.txt, isMajor: t.isMajor })); },
          afterFit: s => { s.height = H - TOP_PAD - PLOT_H; },
          grid: gridOpts(), border: { display: false },
          ticks: { autoSkip: false, maxRotation: 0, minRotation: 0, padding: 1.5, color: '#4D4D4D', font: { family: FONT, size: 8.2 },
                   callback: (v, i, ticks) => ticks[i].txt }
        },
        y: {
          type: 'linear', min: yMin[k], max: yMax[k],
          afterBuildTicks: s => { s.ticks = yT.map(t => ({ value: t.value, txt: t.txt, isMajor: t.isMajor })); },
          afterFit: s => { s.width = PLOT_LEFT; },
          grid: gridOpts(), border: { display: false },
          ticks: { autoSkip: false, padding: 3, color: '#4D4D4D', font: { family: FONT, size: 8.2 },
                   callback: (v, i, ticks) => ticks[i].txt }
        }
      }
    },
    plugins: [borderPlugin]
  });
});
</script>
</body></html>
